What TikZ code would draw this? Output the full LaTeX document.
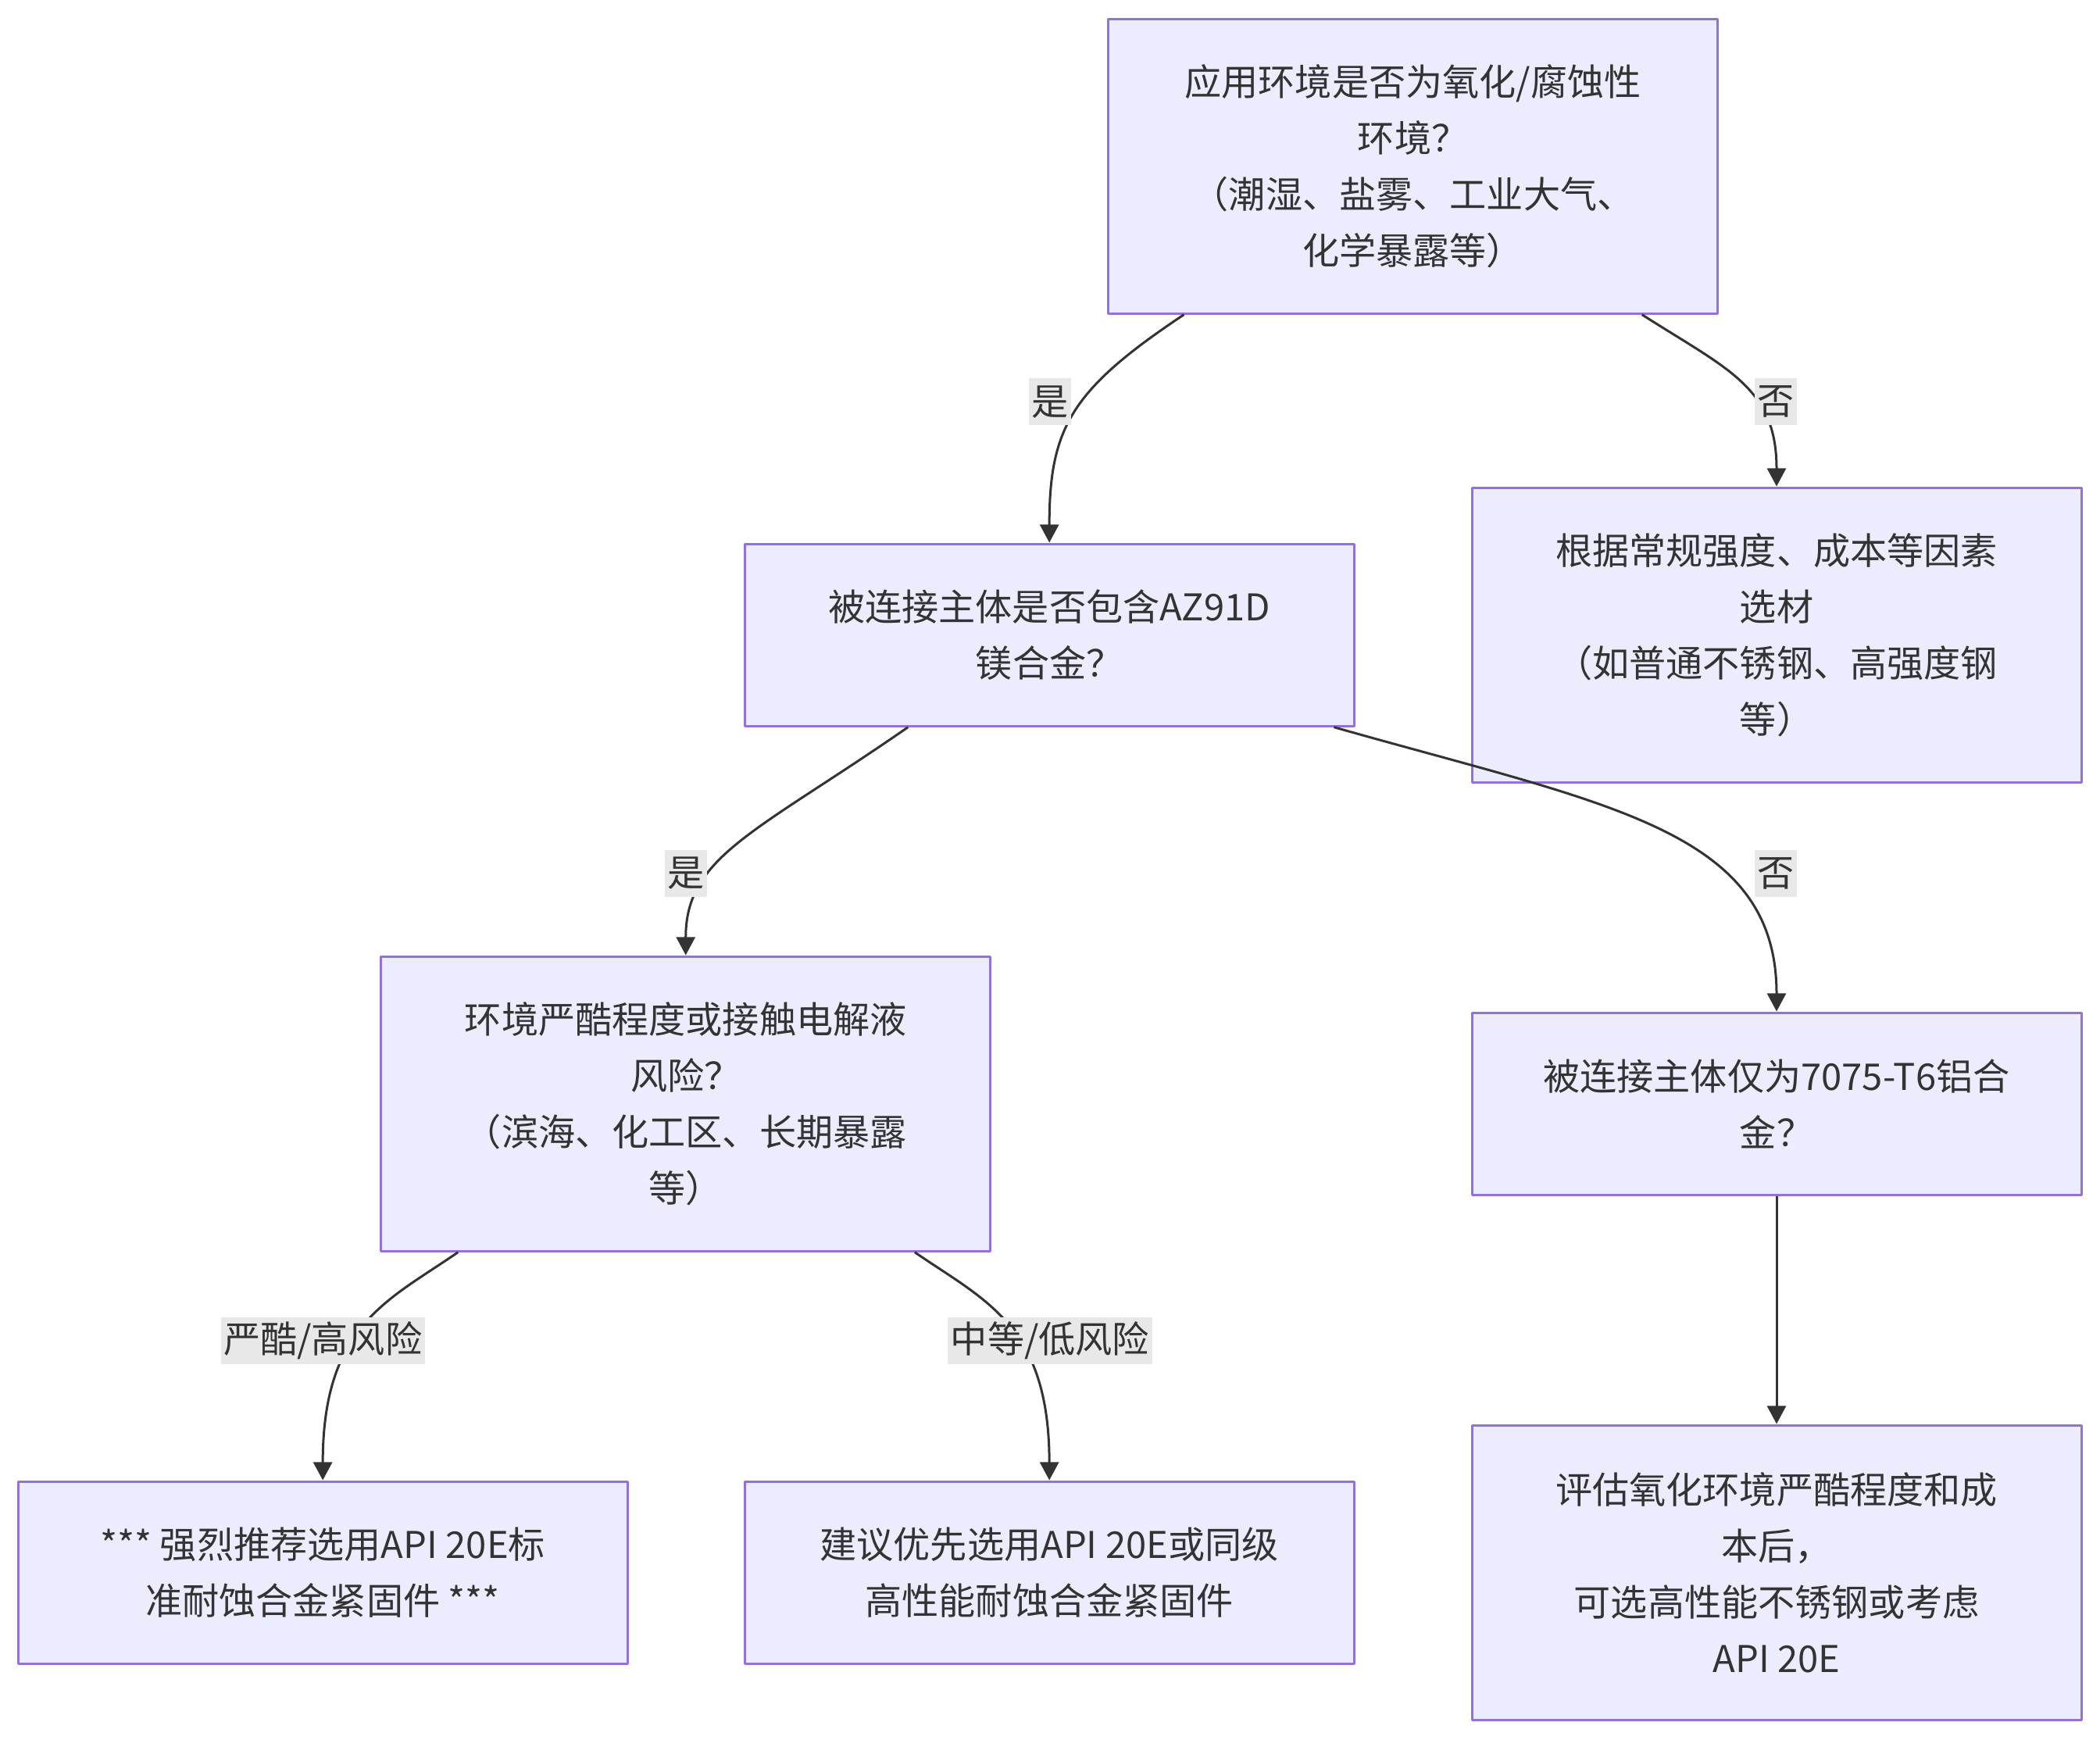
\documentclass[tikz,border=0pt]{standalone}
\usepackage{fontspec}
\setmainfont{Noto Sans CJK SC}
\usetikzlibrary{arrows.meta}
\definecolor{boxfill}{HTML}{ECECFF}
\definecolor{boxline}{HTML}{9370DB}
\definecolor{ink}{HTML}{333333}
\definecolor{lblfill}{HTML}{E8E8E8}
\begin{document}
\begin{tikzpicture}[x=1pt,y=-1pt,>={Triangle[length=13.5pt,width=14pt]}, line join=round,
		font=\fontsize{27.5}{42}\selectfont, text=ink,
		box/.style={draw=boxline, fill=boxfill, line width=1.75pt, minimum width=455pt, align=center, inner sep=0pt},
		tall/.style={box, minimum height=220pt},
		flat/.style={box, minimum height=136pt},
		edge/.style={draw=ink, line width=1.75pt, ->},
		lbl/.style={fill=lblfill, inner xsep=2pt, inner ysep=0pt, minimum height=35pt}]
	\useasboundingbox (0,0) rectangle (1568,1298.6);
	\def\colL{241} \def\colM{783.5} \def\colR{1326.5}
	\def\rowA{124} \def\rowB{474} \def\rowC{824} \def\rowD{1174}
	\node[tall] (env) at (1055,\rowA) {应用环境是否为氧化/腐蚀性\\环境？\\（潮湿、盐雾、工业大气、\\化学暴露等）};
	\node[flat] (mg) at (\colM,\rowB) {被连接主体是否包含AZ91D\\镁合金？};
	\node[tall] (plain) at (\colR,\rowB) {根据常规强度、成本等因素\\选材\\（如普通不锈钢、高强度钢\\等）};
	\node[tall] (sev) at (512,\rowC) {环境严酷程度或接触电解液\\风险？\\（滨海、化工区、长期暴露\\等）};
	\node[flat] (al) at (\colR,\rowC) {被连接主体仅为7075-T6铝合\\金？};
	\node[flat] (must) at (\colL,\rowD) {*** 强烈推荐选用API 20E标\\准耐蚀合金紧固件 ***};
	\node[flat] (rec) at (\colM,\rowD) {建议优先选用API 20E或同级\\高性能耐蚀合金紧固件};
	\node[tall] (eval) at (\colR,\rowD) {评估氧化环境严酷程度和成\\本后，\\可选高性能不锈钢或考虑\\API 20E};
	\draw[edge] ([xshift=-171pt]env.south) .. controls +(-84,56) and +(0,-86) .. (mg.north);
	\draw[edge] ([xshift=171pt]env.south) .. controls +(64,41) and +(0,-74) .. (plain.north);
	\draw[edge] ([xshift=-105.5pt]mg.south) .. controls +(-114,79) and +(0,-74) .. (sev.north);
	\draw[edge] ([xshift=212.5pt]mg.south) .. controls +(204,58) and +(0,-136) .. (al.north);
	\draw[edge] ([xshift=-170pt]sev.south) .. controls +(-52,36) and +(0,-116) .. (must.north);
	\draw[edge] ([xshift=171pt]sev.south) .. controls +(52,36) and +(0,-116) .. (rec.north);
	\draw[edge] (al) -- (eval);
	\node[lbl] (yesA) at (784,300) {是};
	\node[lbl] (noA) at (1326,300) {否};
	\node[lbl] (yesB) at (512,652) {是};
	\node[lbl] (noB) at (1326,652) {否};
	\node[lbl] (hi) at (241,1001) {严酷/高风险};
	\node[lbl] (lo) at (784,1001) {中等/低风险};
\end{tikzpicture}
\end{document}
